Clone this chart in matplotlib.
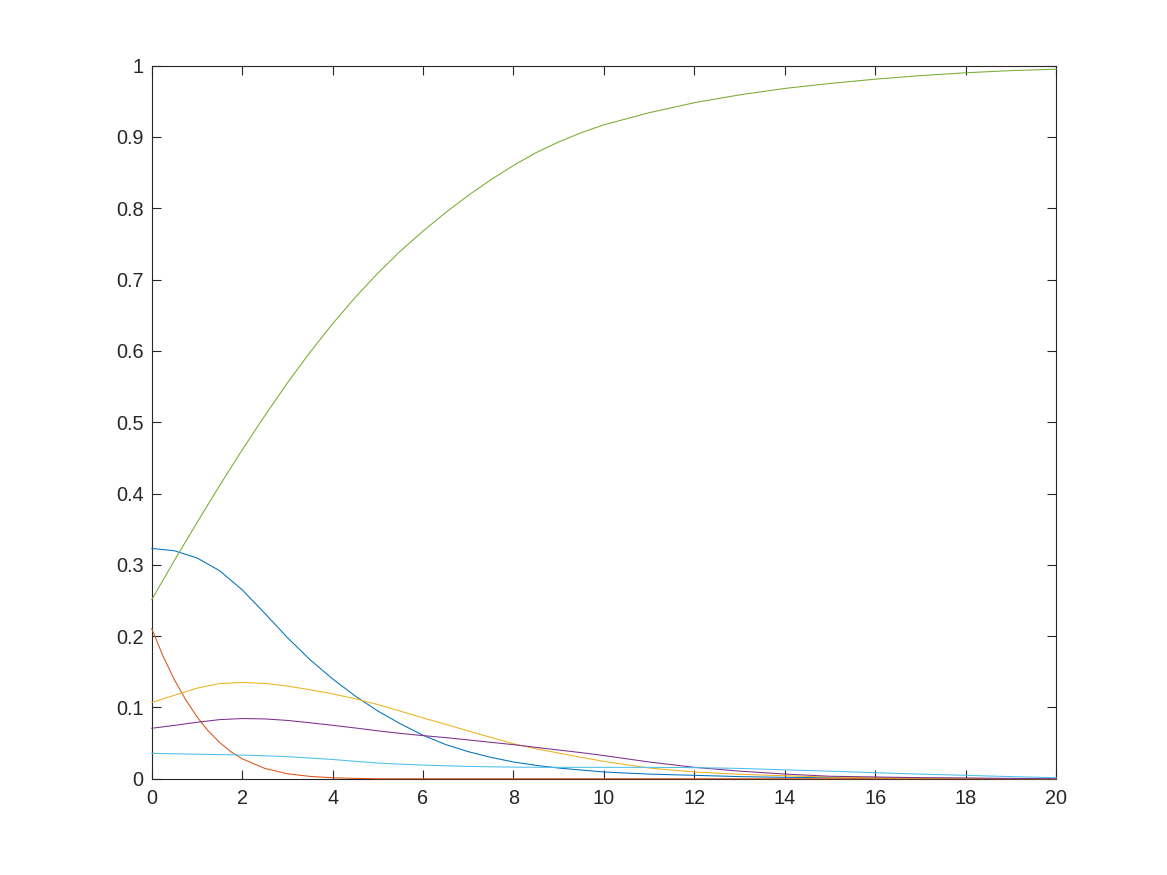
import numpy as np
import matplotlib.pyplot as plt

# shared time grid for most curves
t = [0, 0.5, 1, 1.5, 2, 2.5, 3, 3.5, 4, 4.5, 5, 5.5, 6, 6.5, 7, 7.5, 8, 8.5, 9, 9.5, 10,
     11, 12, 13, 14, 15, 16, 17, 18, 19, 20]

blue = [0.323, 0.3197, 0.3097, 0.2918, 0.265, 0.232, 0.198, 0.167, 0.140, 0.116, 0.095,
        0.077, 0.061, 0.048, 0.038, 0.030, 0.0235, 0.0188, 0.015, 0.0122, 0.0095,
        0.0065, 0.0048, 0.003, 0.002, 0.0014, 0.001, 0.0007, 0.0005, 0.0003, 0.0002]

yellow = [0.107, 0.117, 0.127, 0.1335, 0.135, 0.1338, 0.130, 0.1248, 0.119, 0.1122, 0.104,
          0.0947, 0.0853, 0.0764, 0.067, 0.058, 0.049, 0.042, 0.036, 0.030, 0.0244,
          0.015, 0.0095, 0.0063, 0.0042, 0.0023, 0.0013, 0.0008, 0.0004, 0.0002, 0.0]

purple = [0.0708, 0.0748, 0.0792, 0.0829, 0.0844, 0.0839, 0.0818, 0.0785, 0.0750, 0.0712, 0.0672,
          0.0636, 0.0605, 0.0577, 0.0544, 0.0511, 0.0478, 0.044, 0.0403, 0.0366, 0.0325,
          0.0235, 0.016, 0.0107, 0.0066, 0.0035, 0.0025, 0.0015, 0.001, 0.0005, 0.0]

green = [0.251, 0.306, 0.359, 0.411, 0.461, 0.509, 0.555, 0.598, 0.638, 0.675, 0.709,
         0.740, 0.768, 0.794, 0.818, 0.840, 0.860, 0.878, 0.893, 0.906, 0.917,
         0.934, 0.948, 0.959, 0.968, 0.975, 0.981, 0.986, 0.990, 0.993, 0.995]

lightblue = [0.0356, 0.035, 0.0344, 0.0338, 0.0332, 0.0322, 0.031, 0.029, 0.027, 0.0245, 0.022,
             0.0205, 0.0192, 0.0182, 0.0173, 0.0167, 0.0163, 0.0161, 0.016, 0.016, 0.016,
             0.016, 0.0156, 0.0145, 0.0125, 0.0106, 0.0085, 0.0065, 0.0048, 0.003, 0.0015]

# red decays fast, so it gets its own finer grid at the start
t_red = [0, 0.25, 0.5, 0.75, 1, 1.25, 1.5, 1.75, 2, 2.5, 3, 3.5, 4, 4.5, 5, 20]
red = [0.2105, 0.172, 0.139, 0.111, 0.087, 0.067, 0.051, 0.038, 0.028, 0.0145, 0.007,
       0.0033, 0.0014, 0.0005, 0.0, 0.0]

xticks = [0, 2, 4, 6, 8, 10, 12, 14, 16, 18, 20]
yticks = [0, 0.1, 0.2, 0.3, 0.4, 0.5, 0.6, 0.7, 0.8, 0.9, 1]
ytick_labels = ['0', '0.1', '0.2', '0.3', '0.4', '0.5', '0.6', '0.7', '0.8', '0.9', '1']

plt.rcParams['font.family'] = ['Liberation Sans', 'DejaVu Sans']

fig = plt.figure(figsize=(11.67, 8.75), dpi=100)
ax = fig.add_axes([0.13, 0.11, 0.775, 0.815])

# matlab default colour order
lw = 0.75
ax.plot(t, blue, color='#0072BD', lw=lw, zorder=3, clip_on=False)
ax.plot(t_red, red, color='#D95319', lw=lw, zorder=3, clip_on=False)
ax.plot(t, yellow, color='#EDB120', lw=lw, zorder=3, clip_on=False)
ax.plot(t, purple, color='#7E2F8E', lw=lw, zorder=3, clip_on=False)
ax.plot(t, green, color='#77AC30', lw=lw, zorder=3, clip_on=False)
ax.plot(t, lightblue, color='#4DBEEE', lw=lw, zorder=3, clip_on=False)

ax.set_xlim(0, 20)
ax.set_ylim(0, 1)
ax.set_xticks(xticks)
ax.set_xticklabels([str(v) for v in xticks])
ax.set_yticks(yticks)
ax.set_yticklabels(ytick_labels)

for s in ax.spines.values():
    s.set_color('#262626')
    s.set_linewidth(0.8)
    s.set_zorder(2)
ax.tick_params(direction='in', length=6.5, width=0.8, color='#262626',
               labelcolor='#262626', labelsize=14.3, top=True, right=True)
ax.tick_params(axis='x', pad=7.5)
ax.tick_params(axis='y', pad=6)

fig.savefig('out.png', dpi=100)
